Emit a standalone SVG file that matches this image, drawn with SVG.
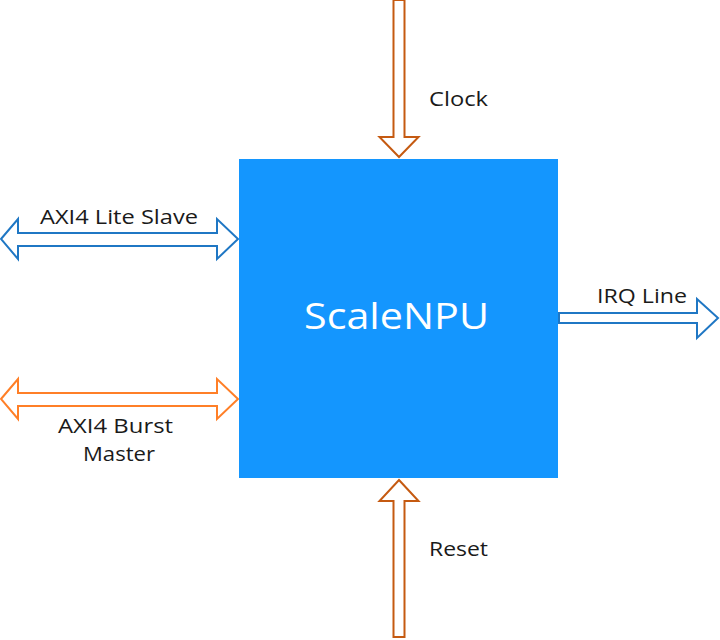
<svg xmlns="http://www.w3.org/2000/svg" width="720" height="640" viewBox="0 0 720 640">
  <style>
    .lbl { font-family: "Open Sans", "Liberation Sans", sans-serif; font-size: 20px; fill: #1a1a1a; }
    .title { font-family: "Open Sans", "Liberation Sans", sans-serif; font-size: 36px; fill: #ffffff; }
    .arr { fill: #ffffff; stroke-width: 2; stroke-linejoin: miter; }
    .dkorange { stroke: #C55A11; }
    .blue { stroke: #1F77C4; }
    .orange { stroke: #FF7F27; }
  </style>
  <rect width="720" height="640" fill="#ffffff"/>
  <g id="connectors">
    <!-- Clock: down arrow -->
    <polygon class="arr dkorange" points="393.5,0 404.5,0 404.5,137 418.5,137 399,157 379.5,137 393.5,137"/>
    <!-- Reset: up arrow -->
    <polygon class="arr dkorange" points="399,480 418.5,501 404.5,501 404.5,637 393.5,637 393.5,501 379.5,501"/>
    <!-- AXI4 Lite Slave: double arrow -->
    <polygon class="arr blue" points="1,239 18,219 18,233 217,233 217,219 238,239 217,259 217,246 18,246 18,259"/>
    <!-- AXI4 Burst Master: double arrow -->
    <polygon class="arr orange" points="1,399 18,379 18,393 217,393 217,379 238,399 217,419 217,406 18,406 18,419"/>
    <!-- IRQ Line: right arrow -->
    <polygon class="arr blue" points="559,313 697,313 697,299 718,318 697,338 697,323 559,323"/>
  </g>
  <g id="scalenpu">
    <rect x="239" y="159" width="319" height="319" fill="#1496FE"/>
    <text class="title" x="304" y="329" textLength="185" lengthAdjust="spacingAndGlyphs">ScaleNPU</text>
  </g>
  <g id="clock-label">
    <text class="lbl" x="429" y="106" textLength="59" lengthAdjust="spacingAndGlyphs">Clock</text>
  </g>
  <g id="reset-label">
    <text class="lbl" x="429" y="556" textLength="59" lengthAdjust="spacingAndGlyphs">Reset</text>
  </g>
  <g id="axi4-lite-label">
    <text class="lbl" x="40" y="224" textLength="158" lengthAdjust="spacingAndGlyphs">AXI4 Lite Slave</text>
  </g>
  <g id="axi4-burst-label">
    <text class="lbl" x="58" y="433" textLength="115" lengthAdjust="spacingAndGlyphs">AXI4 Burst</text>
    <text class="lbl" x="83" y="461" textLength="72" lengthAdjust="spacingAndGlyphs">Master</text>
  </g>
  <g id="irq-label">
    <text class="lbl" x="597" y="303" textLength="90" lengthAdjust="spacingAndGlyphs">IRQ Line</text>
  </g>
</svg>
